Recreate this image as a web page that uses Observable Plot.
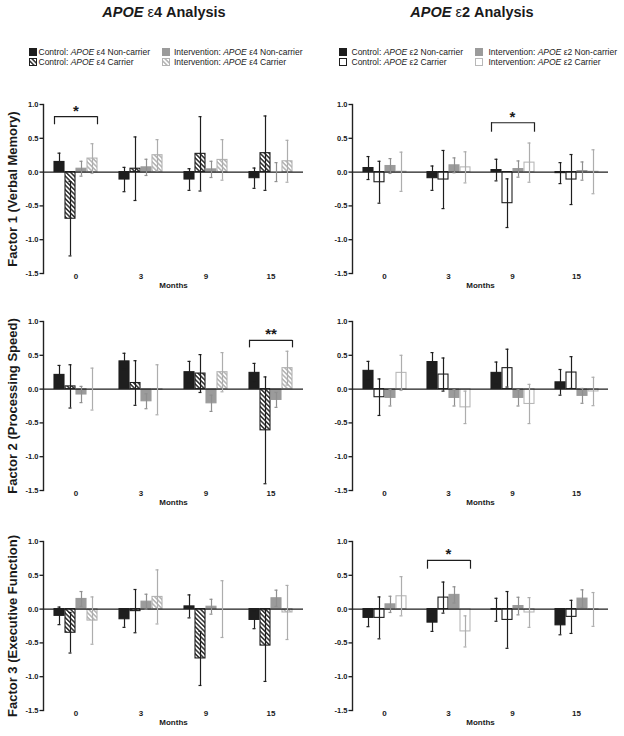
<!DOCTYPE html>
<html><head><meta charset="utf-8">
<script src="https://cdn.jsdelivr.net/npm/d3@7"></script>
<script src="https://cdn.jsdelivr.net/npm/@observablehq/plot@0.6"></script>
<style>
body{margin:0;background:#fff;}
#fig{position:relative;width:624px;height:736px;font-family:"Liberation Sans",Arial,Helvetica,sans-serif;color:#1a1a1a;overflow:hidden;background:#fff}
.abs{position:absolute}
.title{font-size:14.5px;font-weight:bold;line-height:16px;text-align:center;white-space:nowrap}
.leg{font-size:8.5px;line-height:10px;white-space:nowrap}
</style></head>
<body><div id="fig">
<svg width="0" height="0" style="position:absolute;left:0;top:0">
 <defs>
  <pattern id="hatchDark" patternUnits="userSpaceOnUse" width="3.2" height="3.2" patternTransform="rotate(-45)">
   <rect width="3.2" height="3.2" fill="#ffffff"/>
   <line x1="1.6" y1="0" x2="1.6" y2="3.2" stroke="#1e1e1e" stroke-width="1.4"/>
  </pattern>
  <pattern id="hatchLight" patternUnits="userSpaceOnUse" width="3.2" height="3.2" patternTransform="rotate(-45)">
   <rect width="3.2" height="3.2" fill="#ffffff"/>
   <line x1="1.6" y1="0" x2="1.6" y2="3.2" stroke="#adadad" stroke-width="1.4"/>
  </pattern>
 </defs>
</svg>
</div>
<script>
// ---------- data ----------
const months = ["0", "3", "9", "15"];
const series = ["Control non-carrier", "Control carrier", "Intervention non-carrier", "Intervention carrier"];
const yTicks = [-1.5, -1.0, -0.5, 0, 0.5, 1.0];
const factorLabels = ["Factor 1 (Verbal Memory)", "Factor 2 (Processing Speed)", "Factor 3 (Executive Function)"];
const legendArms = ["Control", "Control", "Intervention", "Intervention"];
const legendStatus = ["Non-carrier", "Carrier", "Non-carrier", "Carrier"];
const alleles = ["4", "2"];

// rows = months (0, 3, 9, 15); columns = series
const e4F1Mean = [[0.15, -0.69, 0.05, 0.20], [-0.11, 0.05, 0.07, 0.25], [-0.11, 0.27, 0.04, 0.18], [-0.09, 0.28, 0.00, 0.16]];
const e4F1Err  = [[0.13, 0.55, 0.11, 0.22], [0.18, 0.47, 0.12, 0.23], [0.16, 0.55, 0.12, 0.30], [0.15, 0.55, 0.14, 0.31]];
const e4F2Mean = [[0.21, 0.04, -0.08, 0.00], [0.41, 0.09, -0.18, -0.01], [0.25, 0.23, -0.21, 0.25], [0.24, -0.61, -0.16, 0.31]];
const e4F2Err  = [[0.14, 0.32, 0.12, 0.31], [0.12, 0.33, 0.11, 0.37], [0.16, 0.28, 0.12, 0.29], [0.14, 0.79, 0.11, 0.25]];
const e4F3Mean = [[-0.10, -0.35, 0.15, -0.17], [-0.15, -0.03, 0.11, 0.18], [0.04, -0.73, 0.035, 0.00], [-0.16, -0.54, 0.16, -0.05]];
const e4F3Err  = [[0.13, 0.30, 0.11, 0.35], [0.12, 0.32, 0.11, 0.40], [0.17, 0.40, 0.11, 0.42], [0.13, 0.53, 0.12, 0.40]];

const e2F1Mean = [[0.06, -0.15, 0.09, 0.005], [-0.09, -0.11, 0.10, 0.07], [0.03, -0.46, 0.045, 0.14], [-0.015, -0.11, 0.015, 0.005]];
const e2F1Err  = [[0.17, 0.31, 0.11, 0.29], [0.18, 0.43, 0.11, 0.23], [0.16, 0.36, 0.12, 0.29], [0.155, 0.37, 0.135, 0.325]];
const e2F2Mean = [[0.27, -0.12, -0.13, 0.24], [0.40, 0.215, -0.13, -0.27], [0.24, 0.31, -0.13, -0.22], [0.10, 0.245, -0.10, -0.035]];
const e2F2Err  = [[0.14, 0.27, 0.12, 0.26], [0.14, 0.245, 0.12, 0.24], [0.16, 0.28, 0.12, 0.29], [0.19, 0.235, 0.11, 0.21]];
const e2F3Mean = [[-0.13, -0.13, 0.07, 0.19], [-0.20, 0.17, 0.21, -0.33], [-0.01, -0.16, 0.045, -0.05], [-0.24, -0.115, 0.155, -0.005]];
const e2F3Err  = [[0.13, 0.31, 0.12, 0.29], [0.13, 0.23, 0.12, 0.23], [0.17, 0.42, 0.13, 0.22], [0.14, 0.245, 0.13, 0.25]];

// significance brackets
const sigE4 = [
  {factor: 0, month: "0", level: 0.82, drop: 0.12, label: "*"},
  {factor: 1, month: "15", level: 0.72, drop: 0.11, label: "**"}
];
const sigE2 = [
  {factor: 0, month: "9", level: 0.73, drop: 0.14, label: "*"},
  {factor: 2, month: "3", level: 0.72, drop: 0.13, label: "*"}
];

// ---------- styles ----------
const e4Fill = ["#1e1e1e", "url(#hatchDark)", "#9b9b9b", "url(#hatchLight)"];
const e4Stroke = ["#1e1e1e", "#1e1e1e", "#9b9b9b", "#b3b3b3"];
const e2Fill = ["#1e1e1e", "#ffffff", "#9b9b9b", "#ffffff"];
const e2Stroke = ["#1e1e1e", "#1e1e1e", "#9b9b9b", "#b8b8b8"];
const ebColor = ["#1e1e1e", "#1e1e1e", "#8f8f8f", "#adadad"];

const fig = document.getElementById("fig");
const svgNS = "http://www.w3.org/2000/svg";

function panel(means, errs, fills, strokes, yLabel, sig, marginRight) {
  const rows = months.flatMap((m, i) => series.map((s, k) => ({month: m, series: s, k, mean: means[i][k], err: errs[i][k]})));
  const marks = [
    Plot.barY(rows, {fx: "month", x: "series", y: "mean", fill: d => fills[d.k], stroke: d => strokes[d.k], strokeWidth: 1.1}),
    Plot.ruleY([0], {stroke: "#1e1e1e", strokeWidth: 1.1}),
    Plot.ruleX(rows, {fx: "month", x: "series", y1: d => d.mean - d.err, y2: d => d.mean + d.err, stroke: d => ebColor[d.k], strokeWidth: 1.2}),
    Plot.tickY(rows, {fx: "month", x: "series", y: d => d.mean + d.err, stroke: d => ebColor[d.k], strokeWidth: 1.2, insetLeft: 3.5, insetRight: 3.5}),
    Plot.tickY(rows, {fx: "month", x: "series", y: d => d.mean - d.err, stroke: d => ebColor[d.k], strokeWidth: 1.2, insetLeft: 3.5, insetRight: 3.5}),
    Plot.frame({anchor: "left", facetAnchor: "left", stroke: "#222", strokeWidth: 1.4}),
    Plot.axisY({ticks: yTicks, tickFormat: d => d.toFixed(1), tickSize: 3.5, tickPadding: 1.5, fontSize: 7.5, fontWeight: "bold", strokeWidth: 1.3, label: null}),
    Plot.axisFx({anchor: "bottom", tickSize: 0, tickPadding: 0, fontSize: 8, fontWeight: "bold", label: "Months", labelAnchor: "center", labelOffset: 14, labelArrow: "none"}),
    Plot.text([yLabel], {text: d => d, frameAnchor: "left", textAnchor: "middle", lineAnchor: "middle", rotate: -90, dx: -31, fontSize: 13, fontWeight: "bold", facetAnchor: "left"})
  ];
  if (sig.length) {
    marks.push(
      Plot.ruleY(sig, {fx: "month", y: "level", x1: () => series[0], x2: () => series[3], stroke: "#1e1e1e", strokeWidth: 1.2}),
      Plot.ruleX(sig, {fx: "month", x: () => series[0], y1: d => d.level - d.drop, y2: "level", dx: -5, stroke: "#1e1e1e", strokeWidth: 1.2}),
      Plot.ruleX(sig, {fx: "month", x: () => series[3], y1: d => d.level - d.drop, y2: "level", dx: 5, stroke: "#1e1e1e", strokeWidth: 1.2}),
      Plot.text(sig, {fx: "month", y: "level", text: "label", lineAnchor: "bottom", dy: -1, fontSize: 15, fontWeight: "bold"})
    );
  }
  return Plot.plot({
    width: 312, height: 200,
    marginTop: 9, marginBottom: 22, marginLeft: 43, marginRight,
    style: {fontFamily: "'Liberation Sans', Arial, sans-serif", fontSize: "8px", color: "#1a1a1a", background: "transparent", overflow: "visible"},
    fx: {domain: months, padding: 0, label: null},
    x: {domain: series, paddingInner: 0.1, paddingOuter: 0.93, axis: null},
    y: {domain: [-1.5, 1.0]},
    color: {type: "identity"},
    marks
  });
}

const rowTops = [95, 312, 532];
const colLefts = [0, 308];
const colMarginRight = [9, 12];
const e4Data = [[e4F1Mean, e4F1Err], [e4F2Mean, e4F2Err], [e4F3Mean, e4F3Err]];
const e2Data = [[e2F1Mean, e2F1Err], [e2F2Mean, e2F2Err], [e2F3Mean, e2F3Err]];

[[e4Data, e4Fill, e4Stroke, sigE4], [e2Data, e2Fill, e2Stroke, sigE2]].forEach(([data, fills, strokes, sigs], c) => {
  data.forEach(([m, e], r) => {
    const div = document.createElement("div");
    div.className = "abs";
    div.style.left = colLefts[c] + "px";
    div.style.top = rowTops[r] + "px";
    div.appendChild(panel(m, e, fills, strokes, c === 0 ? factorLabels[r] : "", sigs.filter(s => s.factor === r), colMarginRight[c]));
    fig.appendChild(div);
  });
});

// ---------- titles ----------
const titleCenters = [164, 472];
alleles.forEach((a, c) => {
  const t = document.createElement("div");
  t.className = "abs title";
  t.style.left = (titleCenters[c] - 100) + "px";
  t.style.width = "200px";
  t.style.top = "4px";
  t.innerHTML = `<i>APOE</i> <span style="font-weight:normal">ε</span>${a} Analysis`;
  fig.appendChild(t);
});

// ---------- legends ----------
const legSwatchX = [[29, 162], [339.5, 475]];
const legTextX = [[38.5, 174], [351.5, 488.5]];
const legRowCenter = [52, 62];
[[e4Fill, e4Stroke], [e2Fill, e2Stroke]].forEach(([fills, strokes], c) => {
  series.forEach((s, k) => {
    const col = k >> 1, row = k & 1;
    const sw = document.createElementNS(svgNS, "svg");
    sw.setAttribute("width", 8); sw.setAttribute("height", 8);
    sw.style.position = "absolute";
    sw.style.left = (legSwatchX[c][col] - 0.5) + "px";
    sw.style.top = (legRowCenter[row] - 4) + "px";
    const rect = document.createElementNS(svgNS, "rect");
    rect.setAttribute("x", 0.5); rect.setAttribute("y", 0.5);
    rect.setAttribute("width", 7); rect.setAttribute("height", 7);
    rect.setAttribute("fill", fills[k]); rect.setAttribute("stroke", strokes[k]);
    rect.setAttribute("stroke-width", 1);
    sw.appendChild(rect);
    fig.appendChild(sw);
    const t = document.createElement("div");
    t.className = "abs leg";
    t.style.left = legTextX[c][col] + "px";
    t.style.top = (legRowCenter[row] - 5) + "px";
    t.innerHTML = `${legendArms[k]}: <i>APOE</i> ε${alleles[c]} ${legendStatus[k]}`;
    fig.appendChild(t);
  });
});
</script>
</body></html>
